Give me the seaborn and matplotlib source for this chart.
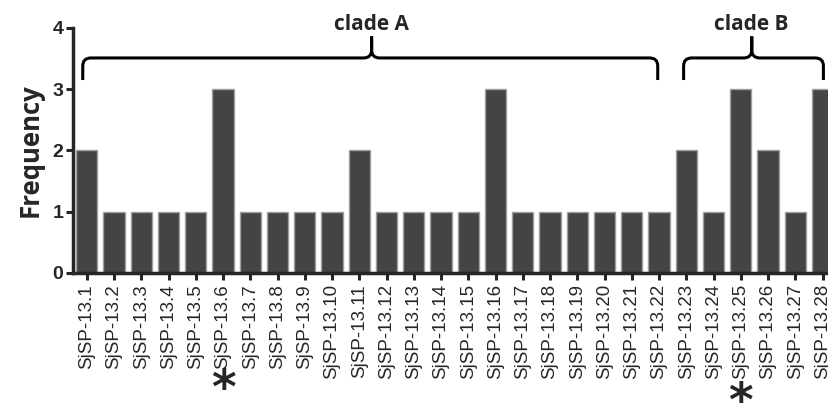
import matplotlib
matplotlib.use("Agg")
import matplotlib.pyplot as plt
import matplotlib.transforms as mtransforms
from matplotlib.path import Path
from matplotlib.patches import PathPatch
import pandas as pd
import seaborn as sns

# data
isolates = [f"SjSP-13.{i}" for i in range(1, 29)]
frequency = [2, 1, 1, 1, 1, 3, 1, 1, 1, 1, 2, 1, 1, 1, 1, 3, 1, 1, 1, 1, 1, 1,
             2, 1, 3, 2, 1, 3]
clade_names = ["clade A", "clade B"]
clade_spans = [(-0.15, 20.95, 10.45), (21.9, 27.03, 24.4)]  # left, right, peak (bar index)
starred = ["SjSP-13.6", "SjSP-13.25"]

df = pd.DataFrame({"isolate": isolates, "frequency": frequency})

sns.set_style("ticks")
plt.rcParams["font.family"] = ["Liberation Sans", "DejaVu Sans"]

fig = plt.figure(figsize=(8.29, 4.08), dpi=100)
ax = fig.add_axes([0.088, 0.331, 0.9207, 0.6005])

sns.barplot(data=df, x="isolate", y="frequency", order=isolates, color="#444444",
            saturation=1, edgecolor="#a0a0a0", linewidth=1.0, width=0.78, ax=ax)

ax.set_ylim(0, 4)
ax.set_xlim(-0.51, 27.5)
ax.set_yticks([0, 1, 2, 3, 4])
ax.set_xlabel("")
ax.set_ylabel("Frequency", fontsize=18.5, fontweight="bold", family="Open Sans", labelpad=6)
ax.tick_params(axis="y", labelsize=14, width=2.2, length=5, pad=2)
ax.tick_params(axis="x", labelsize=13.5, width=2.2, length=5, pad=3, rotation=90)
for lab in ax.get_yticklabels():
    lab.set_fontweight("bold")
for s in ["left", "bottom"]:
    ax.spines[s].set_linewidth(2.5)
sns.despine(ax=ax)

# clade brackets
y_bot, y_h, y_peak = 3.15, 3.51, 3.86
rx, ry = 0.3, 0.13
for name, (x0, x1, xm) in zip(clade_names, clade_spans):
    verts = [(x0, y_bot), (x0, y_h - ry), (x0, y_h), (x0 + rx, y_h),
             (xm - rx, y_h), (xm, y_h), (xm, y_h + ry), (xm, y_peak),
             (xm, y_h + ry), (xm, y_h), (xm + rx, y_h),
             (x1 - rx, y_h), (x1, y_h), (x1, y_h - ry), (x1, y_bot)]
    codes = [Path.MOVETO, Path.LINETO, Path.CURVE3, Path.CURVE3,
             Path.LINETO, Path.CURVE3, Path.CURVE3, Path.LINETO,
             Path.LINETO, Path.CURVE3, Path.CURVE3,
             Path.LINETO, Path.CURVE3, Path.CURVE3, Path.LINETO]
    ax.add_patch(PathPatch(Path(verts, codes), fill=False, lw=2.2, color="black",
                           clip_on=False, capstyle="butt", joinstyle="miter"))
    ax.text(xm, 4.06, name, ha="center", va="center", fontsize=15,
            fontweight="bold", family="Open Sans", clip_on=False)

# asterisks under the label column
trans = mtransforms.blended_transform_factory(ax.transData, fig.transFigure)
for iso, yy in zip(starred, [0.042, 0.012]):
    ax.text(isolates.index(iso), yy, "*", transform=trans, ha="center", va="center",
            fontsize=34, fontweight="bold", family="DejaVu Sans")

fig.savefig("out.png", dpi=100)
